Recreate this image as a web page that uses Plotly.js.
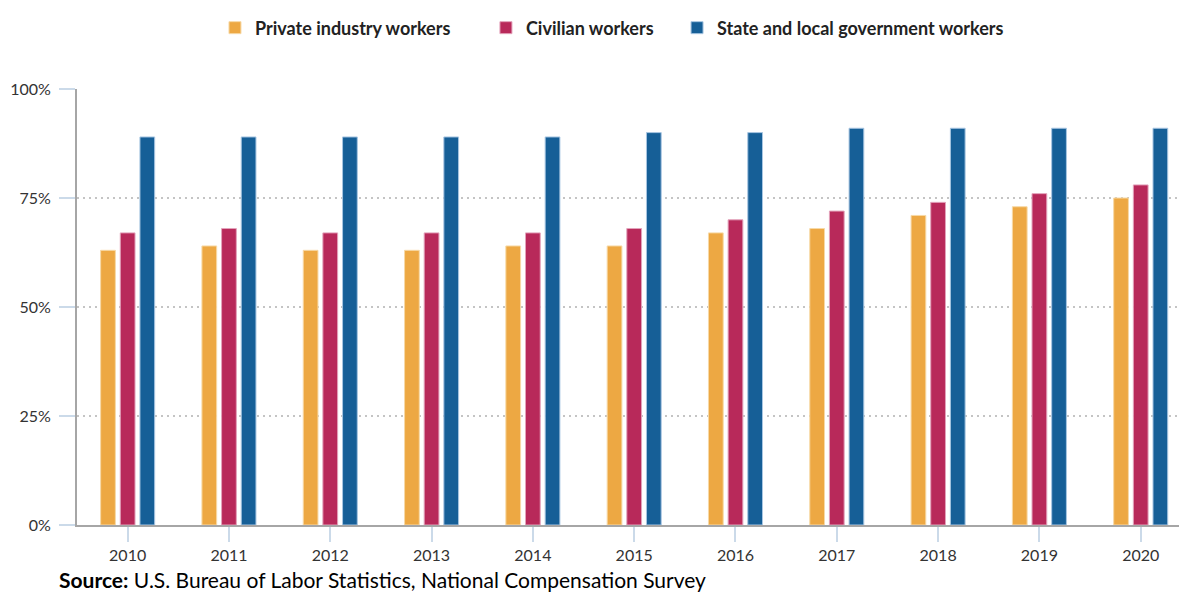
<!DOCTYPE html>
<html>
<head>
<meta charset="utf-8">
<script src="https://cdn.plot.ly/plotly-3.0.1.min.js"></script>
<style>html,body{margin:0;padding:0;background:#fff;}#chart{width:1179px;height:593px;}</style>
</head>
<body>
<div id="chart"></div>
<script>
const years = ['2010','2011','2012','2013','2014','2015','2016','2017','2018','2019','2020'];
const privateIndustry = [63, 64, 63, 63, 64, 64, 67, 68, 71, 73, 75];
const civilian = [67, 68, 67, 67, 67, 68, 70, 72, 74, 76, 78];
const stateLocal = [89, 89, 89, 89, 89, 90, 90, 91, 91, 91, 91];
const seriesNames = ['Private industry workers', 'Civilian workers', 'State and local government workers'];
const yTickVals = [0, 25, 50, 75, 100];
const yTickText = ['0%', '25%', '50%', '75%', '100%'];
const sourceText = '<b>Source:</b> U.S. Bureau of Labor Statistics, National Compensation Survey';

const colors = ['#EDA843', '#B8295A', '#165F97'];
const outline = ['#F7D9A6', '#E3A3BB', '#A8C6E2'];
const values = [privateIndustry, civilian, stateLocal];
const legendIds = ['legend', 'legend2', 'legend3'];
const legendX = [0.1252, 0.3711, 0.5445];

const traces = values.map((v, i) => ({
  type: 'bar',
  name: seriesNames[i],
  x: years,
  y: v,
  legend: legendIds[i],
  marker: {color: colors[i], line: {color: outline[i], width: 1}},
  hoverinfo: 'x+y+name'
}));

const font = 'Lato, "Open Sans", sans-serif';
const legendBase = (x) => ({
  orientation: 'h',
  x: x, xanchor: 'left',
  y: 1.140, yanchor: 'middle',
  bgcolor: 'rgba(0,0,0,0)',
  font: {family: font, size: 18, color: '#222222', weight: 'bold'},
  itemclick: false
});

const layout = {
  width: 1179,
  height: 593,
  margin: {l: 77, r: 0, t: 89, b: 68},
  paper_bgcolor: '#ffffff',
  plot_bgcolor: '#ffffff',
  barmode: 'group',
  bargap: 0.418,
  bargroupgap: 0.25,
  font: {family: font, color: '#333333', size: 16},
  showlegend: true,
  legend: legendBase(legendX[0]),
  legend2: legendBase(legendX[1]),
  legend3: legendBase(legendX[2]),
  xaxis: {
    type: 'category',
    range: [-0.5, 10.378],
    showline: true, linecolor: '#a6a6a6', linewidth: 2,
    ticks: 'outside', ticklen: 15, tickwidth: 2, tickcolor: '#cbdae9',
    showgrid: false, zeroline: false,
    tickfont: {family: font, size: 16, color: '#333333'}
  },
  yaxis: {
    range: [0, 100],
    tickvals: yTickVals, ticktext: yTickText,
    showline: true, linecolor: '#a6a6a6', linewidth: 2,
    ticks: 'outside', ticklen: 16, tickwidth: 2, tickcolor: '#cbdae9',
    ticklabelstandoff: 5,
    showgrid: true, gridcolor: '#c4c4c4', gridwidth: 2, griddash: '2px,4px',
    zeroline: false,
    tickfont: {family: font, size: 16, color: '#333333'}
  },
  annotations: [{
    text: sourceText,
    xref: 'paper', yref: 'paper',
    x: -0.018, xanchor: 'left',
    y: -0.124, yanchor: 'middle',
    showarrow: false,
    font: {family: font, size: 21, color: '#000000'}
  }]
};

Plotly.newPlot('chart', traces, layout, {displayModeBar: false, staticPlot: true});
</script>
</body>
</html>
